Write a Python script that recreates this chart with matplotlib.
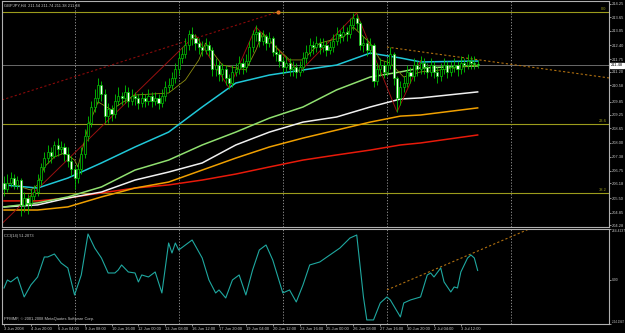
import matplotlib
matplotlib.use("Agg")
import matplotlib.pyplot as plt
import numpy as np

plt.rcParams['font.family'] = ['Liberation Sans', 'DejaVu Sans']

# ---- price data (GBPJPY H4) ----
first_open = 206.2
closes = [205.9, 206.2, 206.4, 206.1, 206.3, 205.2, 205.5, 205.3, 205.6, 205.8,
          206.3, 206.9, 207.3, 207.6, 207.4, 207.9, 207.7, 207.8, 207.5, 207.2,
          206.8, 206.4, 206.8, 207.5, 208.3, 208.9, 209.6, 210.0, 210.6, 210.2,
          209.2, 209.5, 209.3, 209.9, 210.1, 210.0, 210.3, 209.9, 210.1, 210.0,
          209.8, 210.0, 209.9, 210.1, 209.9, 210.0, 209.8, 210.1, 210.5, 210.6,
          210.9, 211.3, 211.8, 212.0, 212.4, 212.9, 212.7, 212.5, 212.3, 212.2,
          212.4, 212.2, 211.3, 211.5, 211.1, 211.3, 210.9, 210.7, 211.2, 211.3,
          211.6, 211.4, 211.7, 212.3, 212.9, 213.0, 212.6, 212.8, 212.5, 212.7,
          212.1, 212.0, 211.7, 211.4, 211.6, 211.3, 211.4, 211.2, 211.4, 211.8,
          212.1, 212.4, 212.3, 212.5, 212.3, 212.4, 212.2, 212.3, 212.6, 212.9,
          212.8, 213.0, 212.9, 213.3, 213.6, 213.4, 212.4, 212.5, 212.2, 212.4,
          210.8, 211.3, 211.5, 211.2, 211.5, 212.0, 210.9, 210.0, 210.5, 210.7,
          211.2, 211.0, 211.5, 211.3, 211.6, 211.4, 211.2, 211.5, 211.2, 211.0,
          211.3, 211.5, 211.2, 211.4, 211.5, 211.3, 211.6, 211.5, 211.7, 211.6,
          211.54, 211.48]
highs = [206.5, 206.6, 206.7, 206.6, 206.5, 206.4, 205.8, 205.7, 205.9, 206.1,
         206.6, 207.1, 207.6, 207.9, 207.8, 208.1, 208.2, 208.1, 208.0, 207.8,
         207.4, 207.0, 207.1, 207.8, 208.6, 209.2, 209.9, 210.4, 210.9, 210.8,
         210.4, 209.8, 209.7, 210.2, 210.5, 210.3, 210.6, 210.5, 210.4, 210.3,
         210.2, 210.3, 210.2, 210.4, 210.3, 210.3, 210.2, 210.4, 210.8, 210.9,
         211.2, 211.6, 212.1, 212.3, 212.7, 213.1, 213.2, 212.9, 212.7, 212.6,
         212.7, 212.6, 212.3, 211.8, 211.7, 211.6, 211.5, 211.1, 211.5, 211.6,
         211.9, 211.8, 212.0, 212.6, 213.1, 213.3, 213.1, 213.1, 212.9, 213.0,
         212.8, 212.4, 212.2, 211.9, 211.9, 211.8, 211.7, 211.6, 211.7, 212.1,
         212.4, 212.7, 212.6, 212.8, 212.7, 212.7, 212.6, 212.6, 212.9, 213.2,
         213.1, 213.3, 213.2, 213.6, 213.85, 213.8, 213.5, 212.8, 212.7, 212.7,
         212.5, 211.6, 211.8, 211.7, 211.8, 212.3, 212.1, 211.0, 210.8, 211.0,
         211.5, 211.4, 211.8, 211.7, 211.9, 211.8, 211.6, 211.8, 211.7, 211.4,
         211.6, 211.8, 211.7, 211.7, 211.8, 211.7, 211.9, 211.8, 212.0, 211.9,
         211.9, 211.74]
lows = [205.6, 205.8, 206.0, 205.9, 205.9, 204.7, 204.9, 204.8, 205.1, 205.4,
        205.6, 206.1, 206.7, 207.1, 207.1, 207.3, 207.4, 207.5, 207.2, 206.9,
        206.5, 205.9, 206.2, 206.6, 207.3, 208.1, 208.7, 209.4, 209.8, 209.9,
        208.9, 208.9, 209.0, 209.1, 209.7, 209.7, 209.8, 209.6, 209.7, 209.7,
        209.5, 209.6, 209.6, 209.7, 209.6, 209.7, 209.5, 209.6, 209.9, 210.3,
        210.4, 210.7, 211.1, 211.6, 211.8, 212.2, 212.4, 212.2, 212.0, 211.9,
        212.0, 211.9, 211.0, 211.0, 210.8, 210.8, 210.6, 210.4, 210.5, 211.0,
        211.1, 211.1, 211.2, 211.5, 212.1, 212.6, 212.3, 212.4, 212.2, 212.3,
        211.9, 211.7, 211.4, 211.1, 211.2, 211.0, 211.0, 210.9, 211.0, 211.2,
        211.6, 211.9, 212.0, 212.1, 212.0, 212.1, 211.9, 212.0, 212.1, 212.4,
        212.5, 212.6, 212.6, 212.7, 213.1, 213.1, 212.2, 212.1, 211.9, 212.0,
        210.5, 210.6, 211.0, 210.9, 211.0, 211.3, 210.6, 209.4, 209.7, 210.3,
        210.5, 210.7, 210.8, 211.0, 211.1, 211.1, 210.9, 211.0, 210.9, 210.7,
        210.8, 211.1, 210.9, 211.0, 211.2, 211.0, 211.1, 211.2, 211.3, 211.3,
        211.3, 211.38]
opens = [first_open] + closes[:-1]

# moving averages (points read at these bars)
ma_bars = [0, 10, 19, 29, 39, 49, 59, 69, 79, 89, 99, 109, 118, 124, 141]
ma_cyan = [206.10, 205.96, 206.41, 207.09, 207.81, 208.48, 209.61, 210.69, 211.05,
           211.28, 211.50, 212.04, 211.82, 211.64, 211.68]
ma_green = [205.11, 205.29, 205.56, 206.01, 206.77, 207.22, 207.90, 208.48, 209.11,
            209.61, 210.38, 210.96, 211.19, 211.37, 211.46]
ma_white = [205.11, 205.20, 205.51, 205.78, 206.32, 206.68, 207.09, 207.90, 208.48,
            208.93, 209.16, 209.61, 209.97, 210.02, 210.29]
ma_orange = [204.97, 204.97, 205.11, 205.56, 205.96, 206.23, 206.77, 207.31, 207.81,
             208.21, 208.57, 208.93, 209.20, 209.25, 209.57]
ma_red = [205.38, 205.38, 205.51, 205.74, 205.96, 206.10, 206.32, 206.59, 206.91,
          207.22, 207.45, 207.67, 207.90, 207.99, 208.35]

# thin olive line
ol_bars = [0, 3, 5, 8, 10, 12, 15, 18, 21, 22, 25, 28, 32, 35, 39, 49, 54, 58, 60,
           65, 72, 75, 77, 81, 85, 89, 94, 101, 104, 109, 112, 115, 119, 124, 130, 136, 141]
ol_vals = [206.10, 206.23, 206.01, 205.87, 206.10, 206.91, 207.36, 207.54, 207.22, 206.91,
           208.71, 209.84, 209.48, 209.79, 210.15, 210.24, 210.83, 211.73, 212.49,
           211.50, 211.28, 212.18, 212.94, 212.31, 211.73, 211.73, 212.49, 212.76, 213.21,
           212.49, 211.73, 211.59, 210.96, 211.19, 211.28, 211.41, 211.50]

# zigzag
zz_bars = [-1, 57, 67, 75, 88, 105, 117, 124]
zz_vals = [204.30, 212.85, 210.47, 213.21, 211.19, 213.84, 209.39, 211.70]

# trend lines (bar, price)
trend_red = ([-0.6, 81.5], [209.93, 213.89])
trend_orange = ([114, 180.1], [212.31, 210.92])

fib_levels = [213.89, 208.84, 205.74]
fib_labels = ["0.0", "23.6", "38.2"]
bid = 211.48
separators = [21, 52, 83, 114, 151]

price_ticks = [214.25, 213.65, 213.05, 212.40, 211.75, 211.20, 210.58, 209.85, 209.25,
               208.65, 208.00, 207.38, 206.75, 206.18, 205.50, 204.85, 204.28]

# CCI(14)
cci_bars = [0, 1, 2, 4, 6, 8, 10, 12, 13, 15, 17, 19, 21, 23, 25, 27, 29, 31, 33, 34,
            35, 37, 39, 40, 41, 43, 45, 47, 49, 50, 51, 52, 56, 59, 61, 63, 64, 66, 68,
            70, 72, 74, 76, 78, 80, 83, 85, 87, 89, 91, 94, 97, 100, 103, 105, 107, 108,
            110, 112, 114, 115, 118, 119, 121, 124, 126, 127, 128, 130, 131, 133, 134,
            135, 136, 138, 139, 140, 141]
cci_vals = [-38.9, 2.3, -8.0, 17.7, -85.1, -23.4, 17.7, 120.5, 120.5, 135.9, 89.6, 63.9,
            -74.8, 28.0, 238.7, 166.7, 115.3, 38.2, 38.2, 53.7, 79.4, 43.4, 38.2, -8.0,
            28.0, 17.7, 43.4, -64.6, 192.4, 141.0, 192.4, 156.5, 207.9, 115.3, 2.3, -64.6,
            -49.1, -90.3, 2.3, 28.0, -74.8, 53.7, 156.5, 182.2, 105.1, -64.6, -49.1,
            -110.8, -23.4, 79.4, 94.8, 130.8, 166.7, 218.1, 233.6, -85.1, -203.3, -203.3,
            -116.0, -85.1, -100.5, -188.0, -116.0, -100.5, -85.1, 28.0, 38.2, 17.7, 63.9,
            -8.0, -59.4, -33.7, -38.9, 43.4, 115.3, 130.8, 115.3, 51.2]
cci_trend = ([114, 157], [-49.0, 269.5])

date_bars = [0, 8, 16, 24, 32, 40, 48, 56, 64, 72, 80, 88, 96, 104, 112, 120, 128, 136]
date_labels = ["3 Jun 2008", "4 Jun 20:00", "6 Jun 04:00", "9 Jun 08:00", "10 Jun 16:00",
               "12 Jun 00:00", "13 Jun 08:00", "16 Jun 12:00", "17 Jun 20:00",
               "19 Jun 04:00", "20 Jun 12:00", "23 Jun 16:00", "25 Jun 00:00",
               "26 Jun 08:00", "27 Jun 16:00", "30 Jun 20:00", "2 Jul 04:00", "3 Jul 12:00"]

FG = "#c8c8c8"
FS = 2.9

fig = plt.figure(figsize=(6.25, 3.33), dpi=100, facecolor="black")
ax = fig.add_axes([2 / 625, 1 - 227 / 333, 607 / 625, 226 / 333])
ax2 = fig.add_axes([2 / 625, 1 - 324 / 333, 607 / 625, 95 / 333])

for a in (ax, ax2):
    a.set_facecolor("black")
    a.set_xlim(-0.6, 180.1)
    for s in a.spines.values():
        s.set_color("#b0b0b0")
        s.set_linewidth(0.8)
    a.yaxis.tick_right()
    a.tick_params(axis="y", colors=FG, labelsize=FS, length=1.5, width=0.5, pad=0.8)
    for sx in separators:
        a.axvline(sx, color="#a0a0a0", lw=0.6, ls=(0, (1.5, 2)), zorder=1)

# horizontal levels
for lv, lb in zip(fib_levels, fib_labels):
    ax.axhline(lv, color="#9c9c1c", lw=0.8, zorder=1)
    ax.text(179.3, lv + 0.04, lb, color="#9c9c1c", fontsize=FS, ha="right", va="bottom")
ax.axhline(bid, color="#7a7a7a", lw=0.6, zorder=1)

# moving averages
ax.plot(ma_bars, ma_red, color="#e81a0a", lw=1.1, zorder=2)
ax.plot(ma_bars, ma_orange, color="#f0a000", lw=1.1, zorder=2)
ax.plot(ma_bars, ma_white, color="#f0f0f0", lw=1.1, zorder=2)
ax.plot(ma_bars, ma_green, color="#90e070", lw=1.1, zorder=2)
ax.plot(ma_bars, ma_cyan, color="#20c8d8", lw=1.1, zorder=2)

# trend lines and zigzag
ax.plot(*trend_red, color="#8a0a0a", lw=0.8, ls=(0, (2, 2)), zorder=2)
ax.plot(trend_red[0][1], trend_red[1][1], "o", color="#e07020", ms=2, zorder=3)
ax.plot(*trend_orange, color="#b07010", lw=0.8, ls=(0, (2, 2)), zorder=2)
ax.plot(zz_bars, zz_vals, color="#9a1010", lw=0.7, zorder=2)
ax.plot(ol_bars, ol_vals, color="#8c8c10", lw=0.6, zorder=3)

# candles
x = np.arange(len(closes))
o = np.array(opens)
c = np.array(closes)
ax.vlines(x, lows, highs, color="#00c800", lw=0.6, zorder=4)
body_lo = np.minimum(o, c)
body_h = np.maximum(np.abs(c - o), 0.03)
face = np.where(c >= o, "black", "white")
ax.bar(x, body_h, bottom=body_lo, width=0.62, color=face, edgecolor="#00c800",
       linewidth=0.5, zorder=5)

ax.set_ylim(204.205, 214.385)
ax.set_yticks(price_ticks)
ax.set_yticklabels([f"{v:.2f}" for v in price_ticks])
ax.set_xticks([])
ax.annotate(f"{bid:.2f}", xy=(1.0, bid), xycoords=("axes fraction", "data"),
            xytext=(1.2, 0), textcoords="offset points", fontsize=FS, color="black",
            va="center", ha="left",
            bbox=dict(boxstyle="square,pad=0.2", fc="white", ec="white"))
ax.text(0.004, 0.99, "GBPJPY,H4  211.54 211.74 211.38 211.48", transform=ax.transAxes,
        color=FG, fontsize=FS, va="top", ha="left")

# CCI panel
ax2.plot(cci_bars, cci_vals, color="#1fa8a0", lw=0.8, zorder=3)
ax2.plot(*cci_trend, color="#b07010", lw=0.8, ls=(0, (2, 2)), zorder=2)
ax2.set_ylim(-224.1947, 264.4237)
ax2.set_yticks([264.4237, 0, -224.1947])
ax2.set_yticklabels(["264.4237", "0.00", "-224.1947"])
ax2.tick_params(axis="y", labelsize=2.4)
for lbl, v in zip(ax2.get_yticklabels(), ["top", "center", "bottom"]):
    lbl.set_va(v)
ax2.get_yticklabels()[2].set_fontsize(2.1)
ax2.set_xticks(date_bars)
ax2.set_xticklabels(date_labels)
ax2.tick_params(axis="x", colors=FG, labelsize=FS, length=1.5, width=0.5, pad=0.8)
for lbl in ax2.get_xticklabels():
    lbl.set_ha("left")
ax2.text(0.004, 0.95, "CCI(14) 51.2073", transform=ax2.transAxes, color=FG,
         fontsize=FS, va="top", ha="left")
ax2.text(0.004, 0.03, "PFMMF, \u00a9 2001-2008 MetaQuotes Software Corp.",
         transform=ax2.transAxes, color=FG, fontsize=FS, va="bottom", ha="left")

fig.savefig("out.png", dpi=100, facecolor="black")
